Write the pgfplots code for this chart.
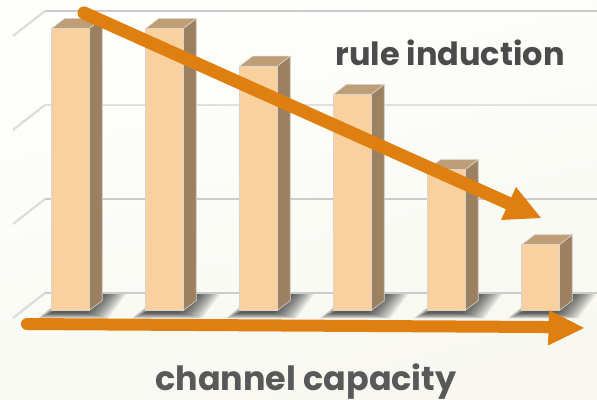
\documentclass[border=0pt]{standalone}
\usepackage{pgfplots}
\usepackage{pgfplotstable}
\usepackage{fontspec}
\setmainfont{Poppins}
\pgfplotsset{compat=1.18}

\definecolor{barfront}{HTML}{FAD09E}
\definecolor{bartop}{HTML}{BE9E77}
\definecolor{barside}{HTML}{9C8062}
\definecolor{baredge}{HTML}{DAD3C8}
\definecolor{arrowc}{HTML}{DE7F10}
\definecolor{gridback}{HTML}{CBCBCB}
\definecolor{gridpale}{HTML}{E0E0DE}
\definecolor{gridside}{HTML}{DCDCDA}
\definecolor{txtc}{HTML}{4B4B4B}
\definecolor{txtd}{HTML}{595959}
\definecolor{pagetop}{HTML}{FEFEFC}
\definecolor{pagebot}{HTML}{F8F8F1}

% channel index and bar height
\pgfplotstableread{
x v
0 3.0
1 3.0
2 2.6
3 2.3
4 1.5
5 0.7
}\barvals

% depth of the bars, in axis units
\def\dx{0.138}
\def\dy{0.106}
\def\hw{0.2}

% soft floor shadow: one polygon of a stack, #1 bar, #2 inset
\newcommand\shadowlayer[2]{%
  \pgfmathsetmacro\sa{#1-0.350+#2*0.6}\pgfmathsetmacro\sb{#1+0.400-#2}%
  \pgfmathsetmacro\sc{#1+0.600-#2}\pgfmathsetmacro\sd{#1-0.030+#2*0.6}%
  \pgfmathsetmacro\ya{-0.085+#2*0.25}%
  \edef\tmp{\noexpand\addplot[draw=none,fill=black,fill opacity=0.07,forget plot]
    coordinates {(\sa,\ya)(\sb,\ya)(\sc,0.186)(\sd,0.186)} -- cycle;}\tmp}

% side and top faces of bar #1
\newcommand\barfaces[1]{%
  \pgfplotstablegetelem{#1}{v}\of\barvals
  \pgfmathsetmacro\va{\pgfplotsretval}%
  \pgfmathsetmacro\vb{\va+\dy}%
  \pgfmathsetmacro\xl{#1-\hw}\pgfmathsetmacro\xr{#1+\hw}%
  \pgfmathsetmacro\xrb{\xr+\dx}\pgfmathsetmacro\xlb{\xl+\dx}%
  \edef\tmp{\noexpand\addplot[fill=barside,draw=baredge,line width=0.6pt,forget plot]
    coordinates {(\xr,0)(\xrb,\dy)(\xrb,\vb)(\xr,\va)} -- cycle;}\tmp
  \edef\tmp{\noexpand\addplot[fill=bartop,draw=baredge,line width=0.6pt,forget plot]
    coordinates {(\xl,\va)(\xr,\va)(\xrb,\vb)(\xlb,\vb)} -- cycle;}\tmp}

% one level of the back wall with its receding side tick, #2 the wall colour
\newcommand\gridlevel[2]{%
  \pgfmathsetmacro\ga{#1+0.186}\pgfmathsetmacro\gb{#1-0.080}%
  \edef\tmp{\noexpand\addplot[gridside,line width=2.2pt,forget plot]
    coordinates {(-0.612,\gb)(-0.271,\ga)};}\tmp
  \edef\tmp{\noexpand\addplot[#2,line width=2.2pt,forget plot]
    coordinates {(-0.271,\ga)(5.601,\ga)};}\tmp}

\begin{document}
\begin{tikzpicture}
\begin{axis}[
  scale only axis,
  width=597pt, height=400pt,
  xmin=-0.75, xmax=5.601,
  ymin=-0.952, ymax=3.303,
  hide axis, clip=true,
]
  % page background
  \fill[bottom color=pagebot, top color=pagetop, shading angle=15]
    (rel axis cs:0,0) rectangle (rel axis cs:1,1);

  % floor shadows, built up in thin layers so that their edges fade out
  \pgfplotsinvokeforeach{0,...,5}{%
    \shadowlayer{#1}{0.00}\shadowlayer{#1}{0.02}\shadowlayer{#1}{0.04}%
    \shadowlayer{#1}{0.06}\shadowlayer{#1}{0.08}\shadowlayer{#1}{0.10}%
    \shadowlayer{#1}{0.12}\shadowlayer{#1}{0.14}\shadowlayer{#1}{0.16}%
    \shadowlayer{#1}{0.18}\shadowlayer{#1}{0.20}\shadowlayer{#1}{0.22}%
    \shadowlayer{#1}{0.24}}

  \gridlevel{0}{gridback}\gridlevel{1}{gridback}
  \gridlevel{2}{gridpale}\gridlevel{3}{gridback}

  \pgfplotsinvokeforeach{0,...,5}{\barfaces{#1}}

  \addplot[ybar, bar width=37.6pt, bar shift=0pt, fill=barfront, draw=baredge,
           line width=0.6pt, forget plot] table[x=x, y=v] {\barvals};

  % falling trend arrow
  \addplot[arrowc, line width=13pt, line cap=round, forget plot]
    coordinates {(0.1436,3.165)(4.676,1.133)};
  \addplot[fill=arrowc, draw=none, forget plot]
    coordinates {(4.739,1.314)(5.005,0.984)(4.580,0.963)} -- cycle;

  % horizontal capacity arrow
  \addplot[arrowc, line width=12pt, line cap=round, forget plot]
    coordinates {(-0.463,-0.144)(5.101,-0.176)};
  \addplot[fill=arrowc, draw=none, forget plot]
    coordinates {(5.090,0.005)(5.463,-0.186)(5.080,-0.372)} -- cycle;

  \node[anchor=base, inner sep=0pt, font=\fontsize{32}{36}\selectfont\bfseries, text=txtc]
    at (axis cs:4.037,2.601) {rule induction};
  \node[anchor=base, inner sep=0pt, font=\fontsize{33.4}{38}\selectfont\bfseries, text=txtd]
    at (axis cs:2.505,-0.846) {channel capacity};
\end{axis}
\end{tikzpicture}
\end{document}
